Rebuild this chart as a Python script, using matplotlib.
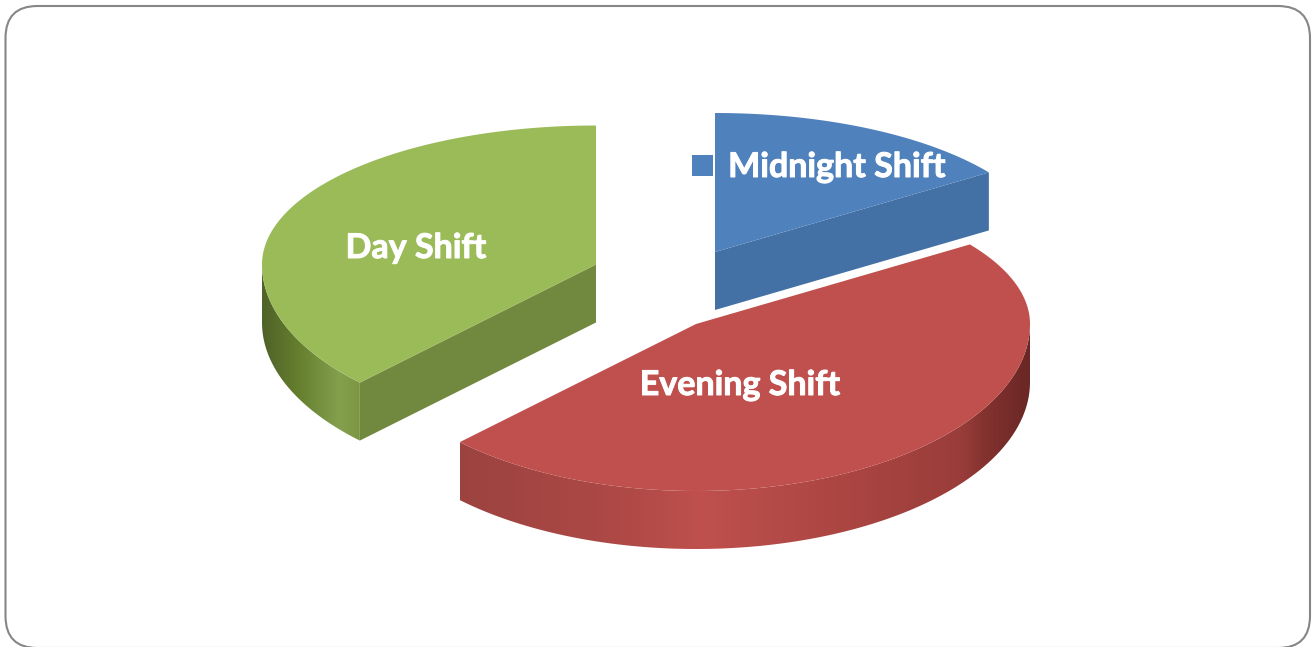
import matplotlib
matplotlib.use("Agg")
import matplotlib.pyplot as plt
import matplotlib.patheffects as pe
from matplotlib.patches import FancyBboxPatch, Rectangle, Polygon
from matplotlib.colors import to_rgb
import numpy as np

shifts = ["Midnight Shift", "Evening Shift", "Day Shift"]
shares = [15.3, 47.2, 37.5]

# look of each slice, same order as shifts
top_colors = ["#4f81bd", "#c0504d", "#9bbb59"]
cut_colors = ["#4471a5", None, "#71893f"]
centers = [(715, 252), (696, 324), (596, 264.5)]
label_pos = [(837, 167), (740, 385), (416, 248)]
wall_stops = [
    [],
    [(460, "#9c4340"), (620, "#ae4946"), (700, "#bf504d"), (850, "#aa4542"),
     (960, "#9a3d3a"), (985, "#83322f"), (1030, "#692725")],
    [(262, "#4f6228"), (300, "#66802f"), (340, "#84a04d"), (360, "#7c9744")],
]

RX = 334
RY_BACK = 139
RY_FRONT = 167
DEPTH = 58


def rim(cx, cy, t):
    # t is the clock angle in radians, the back of the pie is flatter than the front
    c = np.cos(t)
    ry = np.where(c > 0, RY_BACK, RY_FRONT)
    return cx + RX * np.sin(t), cy - ry * c


def wall_gradient(x0, x1, stops):
    xs = [s[0] for s in stops]
    rgb = np.array([to_rgb(s[1]) for s in stops])
    px = np.arange(x0, x1 + 1)
    return np.dstack([np.interp(px, xs, rgb[:, k]) for k in range(3)])


fig = plt.figure(figsize=(13.12, 6.47), dpi=100)
ax = fig.add_axes([0, 0, 1, 1])
ax.axis("off")

ax.add_patch(FancyBboxPatch((5.5, 6), 1304.5, 642, boxstyle="round,pad=0,rounding_size=32",
                            fc="white", ec="#868686", lw=1.5))

ends = np.cumsum(shares) / np.sum(shares) * 2 * np.pi
starts = np.concatenate([[0], ends[:-1]])

for i in range(len(shifts)):
    cx, cy = centers[i]
    t = np.linspace(starts[i], ends[i], 300)
    x, y = rim(cx, cy, t)

    # outer wall, only the part that faces the front
    if wall_stops[i]:
        front = np.cos(t) <= 0
        fx, fy = x[front], y[front]
        outline = np.c_[np.r_[fx, fx[::-1]], np.r_[fy, fy[::-1] + DEPTH]]
        clip = Polygon(outline, transform=ax.transData, fc="none", ec="none")
        ax.add_patch(clip)
        im = ax.imshow(wall_gradient(int(fx.min()), int(fx.max()) + 1, wall_stops[i]), aspect="auto",
                       extent=(fx.min(), fx.max(), fy.max() + DEPTH, fy.min()),
                       interpolation="bilinear", zorder=1)
        im.set_clip_path(clip)

    # flat cut face
    if cut_colors[i]:
        if i == 0:
            ex, ey = x[-1], y[-1]
        else:
            ex, ey = x[0], y[0]
        ax.fill([cx, ex, ex, cx], [cy, ey, ey + DEPTH, cy + DEPTH], color=cut_colors[i], lw=0, zorder=1)

    ax.fill(np.r_[cx, x], np.r_[cy, y], color=top_colors[i], lw=0, zorder=2)

# legend key left over next to the label
ax.add_patch(Rectangle((692, 155), 21, 21, fc=top_colors[0], ec="none", zorder=2))

for i in range(len(shifts)):
    ax.text(label_pos[i][0], label_pos[i][1], shifts[i], color="white", fontsize=24.5,
            fontweight="bold", family="Lato", ha="center", va="center", zorder=3,
            path_effects=[pe.withStroke(linewidth=0.7, foreground="white")])

ax.set_xlim(0, 1312)
ax.set_ylim(647, 0)
fig.savefig("out.png", dpi=100)
